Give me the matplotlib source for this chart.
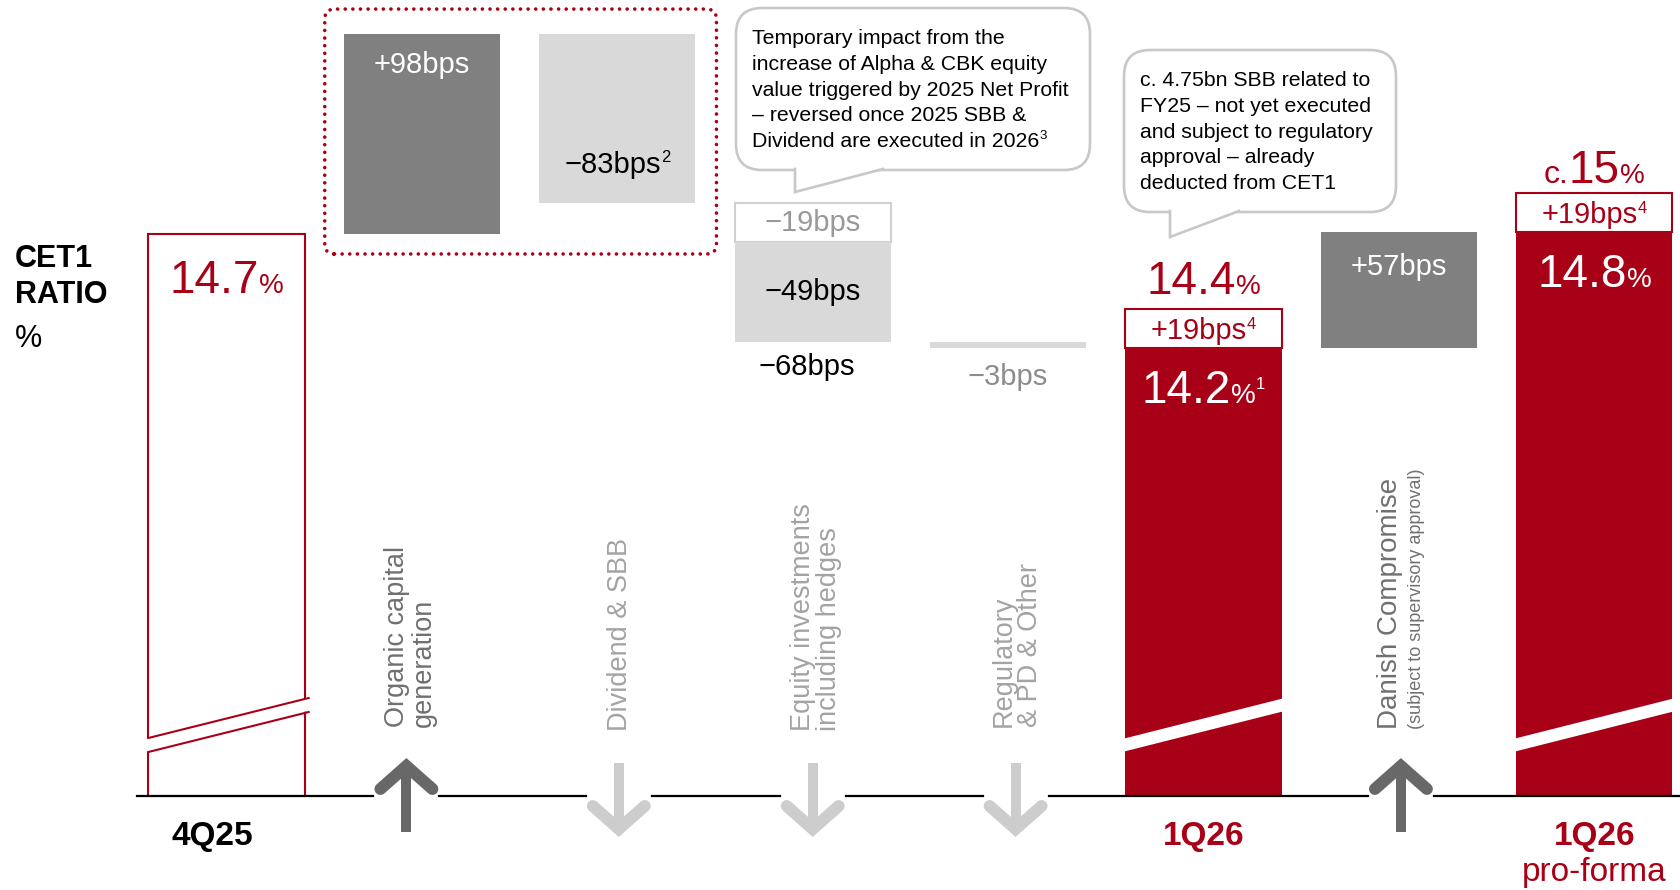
"""
CET1 ratio bridge 4Q25 -> 1Q26 -> 1Q26 pro-forma, drawn as a broken-axis
waterfall with call-outs.
"""

import numpy as np
import matplotlib
matplotlib.use("Agg")
import matplotlib.pyplot as plt
import matplotlib.transforms as mtrans
from matplotlib.lines import Line2D
from matplotlib.patches import FancyBboxPatch, Polygon

# ── Data ─────────────────────────────────────────────────────────────
START_PCT = 14.7                      # 4Q25 CET1 ratio
STEP_LABELS = ["Organic capital\ngeneration", "Dividend & SBB",
               "Equity investments\nincluding hedges", "Regulatory\n& PD & Other"]
STEP_BPS = [98, -83, -68, -3]
EQUITY_SPLIT_BPS = [-19, -49]          # temporary part, remaining part
DANISH_LABEL = "Danish Compromise"
DANISH_NOTE = "(subject to supervisory approval)"
DANISH_BPS = 57
ADDBACK_BPS = 19                       # shown on top of both 1Q26 bars
PERIODS = ["4Q25", "1Q26", "1Q26"]
PERIOD_NOTE = "pro-forma"
RATIO_LABELS = ["14.7", "14.2", "14.8"]
RATIO_WITH_ADDBACK = ["14.4", "15"]
CALLOUT_EQUITY = ["Temporary impact from the",
                  "increase of Alpha & CBK equity",
                  "value triggered by 2025 Net Profit",
                  "– reversed once 2025 SBB &",
                  "Dividend are executed in 2026"]
CALLOUT_SBB = ["c. 4.75bn SBB related to",
               "FY25 – not yet executed",
               "and subject to regulatory",
               "approval – already",
               "deducted from CET1"]

# ── Layout / style ───────────────────────────────────────────────────
W_PX, H_PX, DPI = 1681, 890, 100
X0_PX, STEP_PX = 226.5, 195.4   # centre of first bar, bar pitch (px)
BASE_PX, PX_PCT = 796, 204      # baseline row, pixels per percentage point
BASE = 11.945                   # axis-break value sitting on the baseline
BAR_W = 0.80

RED = "#A80016"
DARK = "#808080"
LIGHT = "#D9D9D9"
ARROW_DARK = "#686868"
ARROW_LIGHT = "#CDCDCD"
TXT_DARK = "#707070"
TXT_LIGHT = "#A3A3A3"
BUBBLE = "#C8C8C8"

plt.rcParams["font.family"] = ["Liberation Sans", "DejaVu Sans"]


def dx(px):
    return px / STEP_PX


def dy(px):
    return px / PX_PCT


def yrow(px):
    """data y of an image row (px counted from the top)"""
    return BASE + dy(BASE_PX - px)


def bps(v):
    return f"{'+' if v > 0 else '−'}{abs(v)}bps"


fig = plt.figure(figsize=(W_PX / DPI, H_PX / DPI), dpi=DPI)
ax = fig.add_axes([0, 0, 1, 1])
ax.axis("off")
PX = mtrans.Affine2D().scale(1, -1).translate(0, H_PX)   # pixel coords, y down
renderer = fig.canvas.get_renderer()


def combo(x, y, parts, color, lift=0, ha="center", trans=None, **kw):
    """several text pieces of different size on one baseline"""
    trans = trans or ax.transData
    items = []
    for s, size, rise in parts:
        t = ax.text(x, y, s, fontsize=size, color=color, ha="left",
                    va="baseline", transform=trans, zorder=6, **kw)
        items.append((t, rise, t.get_window_extent(renderer).width))
    off = -sum(w for _, _, w in items) / 2 if ha == "center" else 0
    for t, rise, w in items:
        t.set_transform(trans + mtrans.ScaledTranslation(
            off / DPI, (lift + rise) / DPI, fig.dpi_scale_trans))
        off += w


# ── Bars ─────────────────────────────────────────────────────────────
levels = START_PCT + np.concatenate([[0], np.cumsum(STEP_BPS)]) / 100
q1 = levels[-1]
pf = q1 + DANISH_BPS / 100
add = ADDBACK_BPS / 100

ax.bar(0, START_PCT - BASE, bottom=BASE, width=BAR_W, fill=False,
       edgecolor=RED, lw=1.5, zorder=2)

for i, (step, lo) in enumerate(zip(STEP_BPS, levels[:-1])):
    if i == 2:
        top = lo
        for j, part in enumerate(EQUITY_SPLIT_BPS):
            ax.bar(i + 1, part / 100, bottom=top, width=BAR_W,
                   color="white" if j == 0 else LIGHT,
                   edgecolor="#D0D0D0" if j == 0 else "none", lw=1.5, zorder=2)
            top += part / 100
    else:
        ax.bar(i + 1, step / 100, bottom=lo, width=BAR_W,
               color=DARK if step > 0 else LIGHT, zorder=2)

for xc, top in [(5, q1), (7, pf)]:
    ax.bar(xc, top - BASE, bottom=BASE, width=BAR_W, color=RED, zorder=2)
    ax.bar(xc, add, bottom=top, width=BAR_W, color="white",
           edgecolor=RED, lw=1.5, zorder=2)
ax.bar(6, DANISH_BPS / 100, bottom=q1, width=BAR_W, color=DARK, zorder=2)

# axis-break bands
for xc in [0, 5, 7]:
    xl, xr = xc - BAR_W / 2 - dx(3), xc + BAR_W / 2 + dx(3)
    ax.add_patch(Polygon([(xl, yrow(BASE_PX - 44)), (xr, yrow(BASE_PX - 85)),
                          (xr, yrow(BASE_PX - 98)), (xl, yrow(BASE_PX - 57))],
                         closed=True, fc="white", ec="none", zorder=3))
xl, xr = -BAR_W / 2, BAR_W / 2 + dx(4)
for lo, hi in [(44, 84), (58, 98)]:
    ax.add_line(Line2D([xl, xr], [yrow(BASE_PX - lo), yrow(BASE_PX - hi)],
                       color=RED, lw=1.5, zorder=4))

# ── Baseline with arrows ─────────────────────────────────────────────
arrow_x = [1 + dx(-15.5), 2 + dx(1.5), 3, 4 + dx(7.5), 6 + dx(2)]
arrow_up = [s > 0 for s in STEP_BPS] + [DANISH_BPS > 0]
gap = dx(33)
x_start, x_end = dx(137 - X0_PX), dx(W_PX - X0_PX)
edges = [x_start] + [v for a in arrow_x for v in (a - gap, a + gap)] + [x_end]
for a, b in zip(edges[::2], edges[1::2]):
    ax.add_line(Line2D([a, b], [BASE, BASE], color="black", lw=1.6, zorder=4))

for xa, up in zip(arrow_x, arrow_up):
    if up:
        tip, wing, tail, col = 766, 789, 832, ARROW_DARK
    else:
        tip, wing, tail, col = 829, 806, 763, ARROW_LIGHT
    ax.add_line(Line2D([xa - dx(26), xa, xa + dx(26)],
                       [yrow(wing), yrow(tip), yrow(wing)], color=col, lw=8.6,
                       solid_joinstyle="miter", solid_capstyle="round", zorder=4))
    ax.add_line(Line2D([xa, xa], [yrow(tip), yrow(tail)], color=col, lw=7.2,
                       solid_capstyle="butt", zorder=4))

# ── Category labels ──────────────────────────────────────────────────
rot_off = [-11.5, 2.5, 3.5, 8.5]
rot_row = [727, 731, 731, 727]
for i, lab in enumerate(STEP_LABELS):
    ax.text(i + 1 + dx(rot_off[i]), yrow(rot_row[i]), lab, rotation=90,
            rotation_mode="anchor", ha="left", va="center", fontsize=19.5,
            linespacing=1.0, color=TXT_DARK if STEP_BPS[i] > 0 else TXT_LIGHT)
ax.text(6 + dx(-9), yrow(729), DANISH_LABEL, rotation=90, rotation_mode="anchor",
        ha="left", va="center", fontsize=20, color=TXT_DARK)
ax.text(6 + dx(18), yrow(729), DANISH_NOTE, rotation=90, rotation_mode="anchor",
        ha="left", va="center", fontsize=13, color=TXT_DARK)

for xc, per, col in zip([dx(-14), 5, 7], PERIODS, ["black", RED, RED]):
    ax.text(xc, yrow(845), per, ha="center", va="baseline", fontsize=24,
            fontweight="bold", color=col)
ax.text(7, yrow(881), PERIOD_NOTE, ha="center", va="baseline", fontsize=24,
        color=RED)

ax.text(15, 267, "CET1", transform=PX, fontsize=22, fontweight="bold", va="baseline")
ax.text(15, 303, "RATIO", transform=PX, fontsize=22, fontweight="bold", va="baseline")
ax.text(15, 347, "%", transform=PX, fontsize=22, va="baseline")

# ── Value labels ─────────────────────────────────────────────────────
combo(0, START_PCT, [(RATIO_LABELS[0], 33, 0), ("%", 20, 0)], RED, lift=-59)
combo(1, levels[1], [(bps(STEP_BPS[0]), 21, 0)], "white", lift=-39)
combo(2, levels[2], [(bps(STEP_BPS[1]), 21, 0), ("2", 12, 11)], "black", lift=30)
combo(3, levels[2], [(bps(EQUITY_SPLIT_BPS[0]), 21, 0)], "#999999", lift=-28)
combo(3, levels[3], [(bps(EQUITY_SPLIT_BPS[1]), 21, 0)], "black", lift=42)
combo(3 + dx(-6), levels[3], [(bps(STEP_BPS[2]), 21, 0)], "black", lift=-33)
combo(4, levels[4], [(bps(STEP_BPS[3]), 21, 0)], "#8C8C8C", lift=-37)

combo(5, q1 + add, [(RATIO_WITH_ADDBACK[0], 33, 0), ("%", 20, 0)], RED, lift=15)
combo(5, q1, [(bps(ADDBACK_BPS), 21, 0), ("4", 12, 10)], RED, lift=9)
combo(5, q1, [(RATIO_LABELS[1], 33, 0), ("%", 20, 0), ("1", 12, 14)], "white", lift=-55)
combo(6, pf, [(bps(DANISH_BPS), 21, 0)], "white", lift=-43)
combo(7, pf + add, [("c.", 23, 0), (RATIO_WITH_ADDBACK[1], 33, 0), ("%", 20, 0)],
      RED, lift=10)
combo(7, pf, [(bps(ADDBACK_BPS), 21, 0), ("4", 12, 10)], RED, lift=9)
combo(7, pf, [(RATIO_LABELS[2], 33, 0), ("%", 20, 0)], "white", lift=-55)

# ── Dotted frame round the first two steps ───────────────────────────
x0, x1 = 1 - BAR_W / 2 - dx(19), 2 + BAR_W / 2 + dx(21)
y0, y1 = START_PCT - dy(20), levels[1] + dy(25)
ax.add_patch(FancyBboxPatch((x0, y0), x1 - x0, y1 - y0,
                            boxstyle="round,pad=0,rounding_size=0.05",
                            mutation_aspect=STEP_PX / PX_PCT, fill=False,
                            ec=RED, lw=2.6, ls=(0, (0.01, 2.1)),
                            capstyle="round", zorder=2))

# ── Call-outs ────────────────────────────────────────────────────────
for (bx, by, bw, bh), (t0, t1, tip), lines, tx, ty in [
        ((736, 8, 354, 162), (795, 883, 192), CALLOUT_EQUITY, 752, 44),
        ((1124, 50, 272, 162), (1170, 1239, 237), CALLOUT_SBB, 1140, 86)]:
    ax.add_patch(FancyBboxPatch((bx, by), bw, bh,
                                boxstyle="round,pad=0,rounding_size=26",
                                transform=PX, fc="white", ec=BUBBLE, lw=1.9, zorder=5))
    bot = by + bh
    ax.add_patch(Polygon([(t0, bot - 2), (t0, tip), (t1, bot - 2)], closed=True,
                         transform=PX, fc="white", ec="none", zorder=5))
    ax.add_line(Line2D([t0, t0, t1], [bot - 1, tip, bot - 1], transform=PX,
                       color=BUBBLE, lw=1.9, solid_joinstyle="miter", zorder=5))
    for k, line in enumerate(lines[:-1]):
        ax.text(tx, ty + 25.8 * k, line, transform=PX, fontsize=15.3,
                va="baseline", zorder=6)
    parts = [(lines[-1], 15.3, 0)]
    if lines is CALLOUT_EQUITY:
        parts.append(("3", 9.5, 8))
    combo(tx, ty + 25.8 * (len(lines) - 1), parts, "black", ha="left", trans=PX)

ax.set_xlim(-X0_PX / STEP_PX, (W_PX - X0_PX) / STEP_PX)
ax.set_ylim(BASE - dy(H_PX - BASE_PX), BASE + dy(BASE_PX))

fig.savefig("out.png", dpi=DPI)
